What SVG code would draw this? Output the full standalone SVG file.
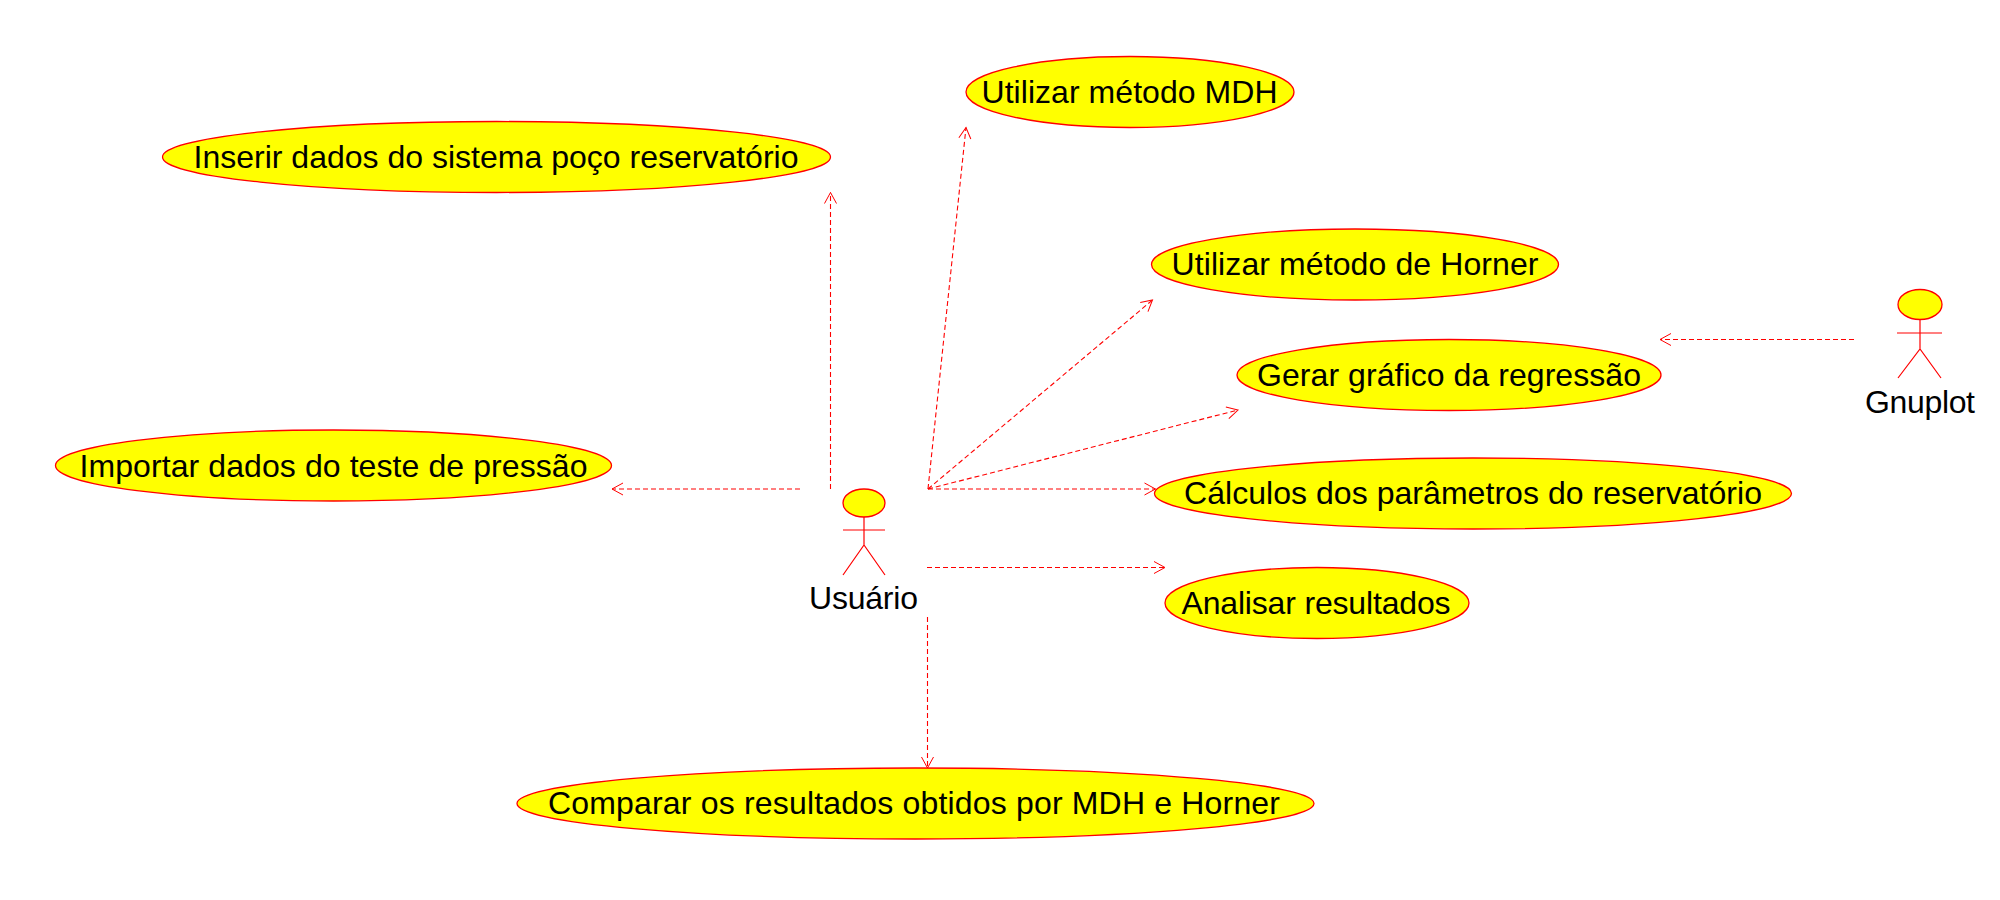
<svg xmlns="http://www.w3.org/2000/svg" width="2000" height="900" viewBox="0 0 2000 900">
<style>
.uc{fill:#ffff00;stroke:#ff0000;stroke-width:1.3}
.a{fill:none;stroke:#ff0000;stroke-width:1.2}
.c{fill:none;stroke:#ff0000;stroke-width:1.1;stroke-dasharray:5 3;marker-end:url(#arr)}
text{font-family:"Liberation Sans",Arial,sans-serif;font-size:32px;fill:#000;text-anchor:middle}
</style>
<defs><marker id="arr" markerUnits="userSpaceOnUse" markerWidth="16" markerHeight="16" refX="12" refY="7" orient="auto"><path d="M1 1L12 7L1 13" fill="none" stroke="#ff0000" stroke-width="1"/></marker></defs>
<rect width="2000" height="900" fill="#fff"/>
<g id="connectors">
<path class="c" d="M830.500 489V192.500"/>
<path class="c" d="M800 489H612"/>
<path class="c" d="M928 489L966 127.500"/>
<path class="c" d="M928 489L1152.500 300"/>
<path class="c" d="M928 489L1238 410"/>
<path class="c" d="M928 489H1155.500"/>
<path class="c" d="M927 567.500H1165"/>
<path class="c" d="M927.500 617V768"/>
<path class="c" d="M1854 339.500H1660"/>
</g>
<g id="uc-mdh"><ellipse class="uc" cx="1130" cy="92" rx="164" ry="35.500"/><text x="1129.500" y="103" textLength="296">Utilizar método MDH</text></g>
<g id="uc-inserir"><ellipse class="uc" cx="496.500" cy="157" rx="334" ry="35.500"/><text x="496" y="168" textLength="605">Inserir dados do sistema poço reservatório</text></g>
<g id="uc-horner"><ellipse class="uc" cx="1355" cy="264.500" rx="203.500" ry="35.500"/><text x="1355" y="275" textLength="367">Utilizar método de Horner</text></g>
<g id="uc-gerar"><ellipse class="uc" cx="1449" cy="375" rx="212" ry="35.500"/><text x="1449" y="386" textLength="384">Gerar gráfico da regressão</text></g>
<g id="uc-calculos"><ellipse class="uc" cx="1473" cy="493.500" rx="318.500" ry="35.500"/><text x="1473" y="504" textLength="578">Cálculos dos parâmetros do reservatório</text></g>
<g id="uc-analisar"><ellipse class="uc" cx="1317" cy="603" rx="152" ry="35.500"/><text x="1316" y="614" textLength="269">Analisar resultados</text></g>
<g id="uc-importar"><ellipse class="uc" cx="333.500" cy="465.500" rx="278" ry="35.500"/><text x="333.500" y="476.500" textLength="508">Importar dados do teste de pressão</text></g>
<g id="uc-comparar"><ellipse class="uc" cx="915.500" cy="803.500" rx="398.500" ry="35.500"/><text x="914" y="814" textLength="732">Comparar os resultados obtidos por MDH e Horner</text></g>
<g id="actor-usuario"><ellipse class="uc" cx="864" cy="503" rx="21" ry="14"/><path class="a" d="M864 517V545M843 530H885M843 575L864 545L885 575"/><text x="863.500" y="609" textLength="109">Usuário</text></g>
<g id="actor-gnuplot"><ellipse class="uc" cx="1920" cy="304.500" rx="22" ry="15"/><path class="a" d="M1920 319.500V349M1897 333H1942M1898 378L1920 349L1941 378"/><text x="1920" y="413" textLength="110">Gnuplot</text></g>
</svg>
